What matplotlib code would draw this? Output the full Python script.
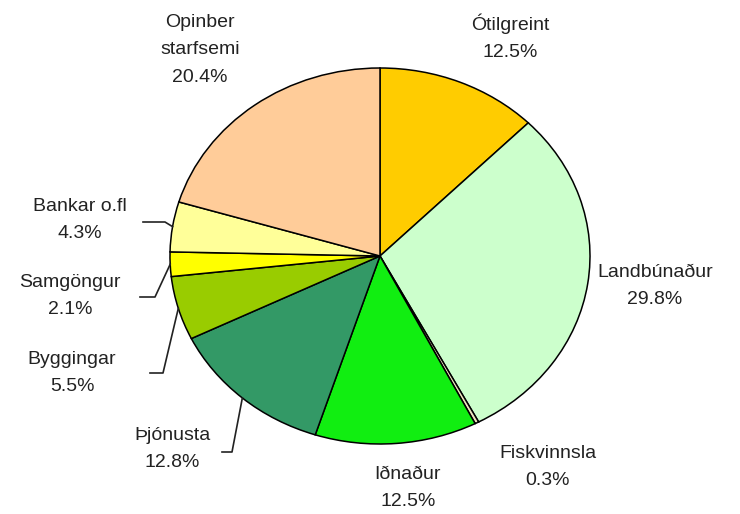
import numpy as np
import matplotlib
matplotlib.use('Agg')
import matplotlib.pyplot as plt

plt.rcParams['font.family'] = ['Liberation Sans', 'DejaVu Sans']

# data (clockwise from 12 o'clock)
labels = ['Ótilgreint', 'Landbúnaður', 'Fiskvinnsla', 'Iðnaður', 'Þjónusta',
          'Byggingar', 'Samgöngur', 'Bankar o.fl', 'Opinber\nstarfsemi']
shares = [12.5, 29.8, 0.3, 12.5, 12.8, 5.5, 2.1, 4.3, 20.4]
colors = ['#FFCC00', '#CCFFCC', '#EEE6BE', '#11EE11', '#339966',
          '#99CC00', '#FFFF00', '#FFFF99', '#FFCC99']

# label text centres in pixels (x, y from top)
label_pos = [(510, 37), (655, 286), (548, 467), (408, 488), (172, 449),
             (72, 373), (70, 296), (80, 220), (200, 50)]
# elbow of leader line for the labels on the left (pixels), None = no line
elbow = [None, None, None, None, [(222, 452), (232, 452)],
         [(150, 373), (163, 373)], [(140, 297), (155, 297)],
         [(143, 222), (165, 222)], None]

W, H = 740, 514
cx, cy, rx, ry = 380, 256, 210, 188

fig = plt.figure(figsize=(W / 100, H / 100), dpi=100)
fig.patch.set_facecolor('white')
ax = fig.add_axes([(cx - rx) / W, (H - cy - ry) / H, 2 * rx / W, 2 * ry / H])

ax.pie(shares, colors=colors, startangle=90, counterclock=False, radius=1,
       wedgeprops=dict(edgecolor='black', linewidth=1.1))
ax.set_aspect('auto')
ax.set_xlim(-1, 1)
ax.set_ylim(-1, 1)
ax.axis('off')


def to_data(px, py):
    return (px - cx) / rx, (cy - py) / ry


total = sum(shares)
cum = 0.0
for lab, val, pos, elb in zip(labels, shares, label_pos, elbow):
    mid = (cum + val / 2) / total * 2 * np.pi
    cum += val
    tx, ty = to_data(*pos)
    ax.text(tx, ty, f'{lab}\n{val:.1f}%', ha='center', va='center',
            fontsize=14, color='#222222', linespacing=1.8, clip_on=False)
    if elb is not None:
        pts = [to_data(*p) for p in elb] + [(np.sin(mid), np.cos(mid))]
        xs, ys = zip(*pts)
        ax.plot(xs, ys, color='#222222', linewidth=1.2, clip_on=False)

fig.savefig('out.png', dpi=100, facecolor='white')
